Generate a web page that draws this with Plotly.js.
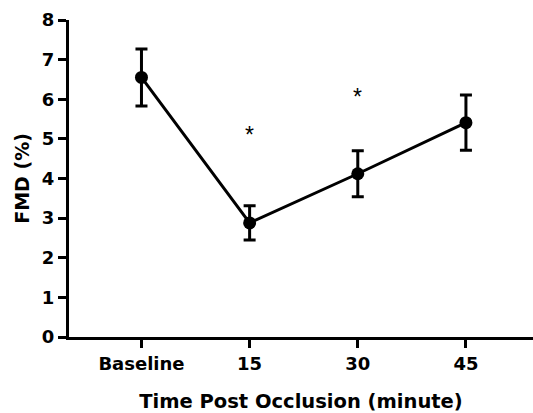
<!DOCTYPE html>
<html><head><meta charset="utf-8">
<script src="https://cdn.plot.ly/plotly-3.0.1.min.js"></script>
<style>html,body{margin:0;padding:0;background:#fff}#c{width:533px;height:413px}</style>
</head><body><div id="c"></div>
<script>
var categories = ["Baseline", "15", "30", "45"];
var fmd = [6.55, 2.88, 4.12, 5.41];
var sem = [0.72, 0.43, 0.58, 0.70];
var sigIdx = [1, 2];
var sigY = [5.1, 6.05];
var yTicks = [0,1,2,3,4,5,6,7,8];

var xs = categories.map(function(_, i){return i;});
var trace = {
  x: xs, y: fmd, type: 'scatter', mode: 'lines+markers',
  line: {color: '#000', width: 3},
  marker: {color: '#000', size: 13},
  error_y: {type: 'data', array: sem, visible: true, color: '#000', thickness: 3, width: 6},
  hoverinfo: 'none'
};
var fam = 'DejaVu Sans, Verdana, sans-serif';
var ann = sigIdx.map(function(i, k){
  return {x: xs[i], y: sigY[k], text: '*', showarrow: false, font: {family: 'Liberation Sans, Arial', size: 23, color: '#000'}};
});
function b(s){return '<b>' + s + '</b>';}
var tickF = {family: fam, size: 18, color: '#000', weight: 700};
Plotly.newPlot('c', [trace], {
  width: 533, height: 413,
  margin: {l: 69, r: 0, t: 20, b: 76},
  paper_bgcolor: '#fff', plot_bgcolor: '#fff',
  showlegend: false,
  font: {family: fam, color: '#000'},
  xaxis: {
    range: [-0.67, 3.62], tickvals: xs, ticktext: categories.map(b),
    showgrid: false, zeroline: false, showline: true, linecolor: '#000', linewidth: 3,
    ticks: 'outside', ticklen: 8, tickwidth: 3, tickcolor: '#000',
    tickfont: tickF,
    title: {text: b('Time Post Occlusion (minute)'), font: {family: fam, size: 19.5, color: '#000', weight: 700}, standoff: 26}
  },
  yaxis: {
    range: [0, 8], tickvals: yTicks, ticktext: yTicks.map(function(v){return b(String(v));}),
    showgrid: false, zeroline: false, showline: true, linecolor: '#000', linewidth: 3,
    ticks: 'outside', ticklen: 8, tickwidth: 3, tickcolor: '#000',
    tickfont: tickF,
    title: {text: b('FMD (%)'), font: {family: fam, size: 19, color: '#000', weight: 700}, standoff: 8}
  },
  annotations: ann
}, {displayModeBar: false, staticPlot: true});
</script></body></html>
